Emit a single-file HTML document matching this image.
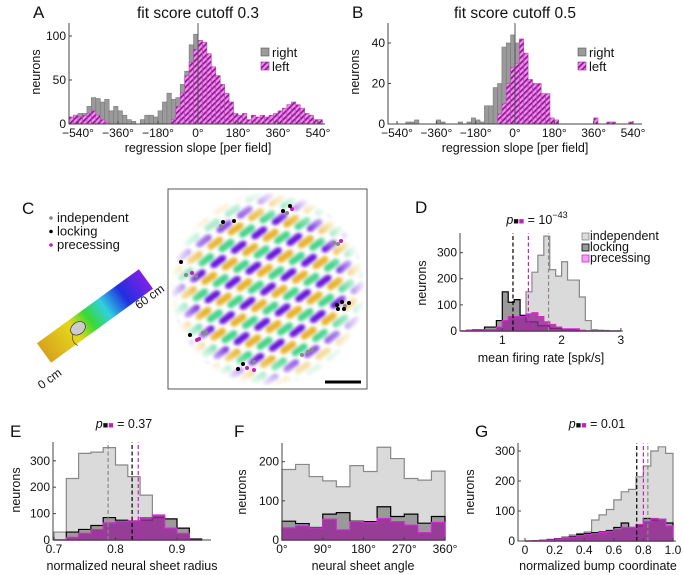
<!DOCTYPE html>
<html><head><meta charset="utf-8"><style>
html,body{margin:0;padding:0;background:#fff}
svg{display:block;font-family:"Liberation Sans",Arial,sans-serif}
</style></head><body>
<svg id="fig" width="683" height="575" viewBox="0 0 683 575" xmlns="http://www.w3.org/2000/svg">
<defs>
<pattern id="hatch" patternUnits="userSpaceOnUse" width="4" height="4" patternTransform="rotate(45)">
<rect width="4" height="4" fill="#ef8cef"/><rect width="1.7" height="4" fill="#8a1a8a"/>
</pattern>
<linearGradient id="cbar" x1="0" x2="1" y1="0" y2="0">
<stop offset="0" stop-color="#d9a21e"/><stop offset="0.3" stop-color="#e4d81a"/><stop offset="0.45" stop-color="#38d838"/>
<stop offset="0.6" stop-color="#30d0e0"/><stop offset="0.78" stop-color="#2030e0"/><stop offset="1" stop-color="#8020e8"/>
</linearGradient>
<radialGradient id="fade"><stop offset="0.7" stop-color="#fff"/><stop offset="1" stop-color="#000"/></radialGradient>
<mask id="diskmask"><circle cx="268" cy="289" r="98" fill="url(#fade)"/></mask>
<filter id="blur"><feGaussianBlur stdDeviation="1.5"/></filter>
</defs>
<g id="root"></g>
</svg>
<script>
// ---------- Data ----------
const A_binStart = -580, A_binWidth = 20;
const A_right = [5,10,12,12,20,30,29,25,28,15, 20,15,10,5,3,0,5,10,10,8, 15,25,35,28,30,45,60,90,102, 95,80,50,30,15,8,3,0,0, 0,0,0,0,0,0,0,0,0, 0,0,0,0,0,0,0,0,0,0];
const A_left  = [8,10,8,10,12,15,10,5,2,0, 0,0,0,0,0,0,0,0,0,0, 0,0,0,5,20,35,55,70,85, 95,93,80,65,55,45,35,25,12, 10,12,5,10,8,10,8,10,12, 15,18,22,25,22,18,12,10,5,5];
const B_right = [0,0,0,0,1,1,2,0,0,0, 0,2,1,0,0,0,1,0,1,3, 2,1,9,9,18,20,38,40,44, 40,20,10,5,2,0,0,0,0, 0,0,0,0,0,0,0,0,0, 0,0,0,0,0,0,0,0,0,0];
const B_left  = [0,0,0,0,0,0,0,0,0,0, 0,0,0,0,0,0,0,0,0,0, 0,0,0,0,0,5,10,20,28, 30,42,35,22,20,20,15,15,3, 2,0,0,0,0,0,0,0,0, 3,0,0,1,1,0,0,0,1,0];
const slopeTicks = [-540,-360,-180,0,180,360,540];
const A_yTicks = [0,50,100];
const B_yTicks = [0,20,40];

const D_binStart = 0.3, D_binWidth = 0.1;
const D_indep = [0,0,0,0,2,5,10,22,25,50,55,150,225,290,363,235,210,265,195,195,130,40,5,3,2,0,0];
const D_lock  = [0,3,5,5,15,15,40,150,110,120,60,35,35,20,20,10,10,5,5,3,0,0,0,0,0,0,0];
const D_prec  = [0,3,5,5,5,5,15,40,55,55,55,65,70,55,35,25,15,8,8,8,3,0,0,0,0,0,0];
const D_medians = [1.18,1.44,1.78];
const D_xTicks = [1,2,3], D_yTicks = [0,100,200,300];

const E_binStart = 0.70, E_binWidth = 0.02;
const E_indep = [30,233,328,333,350,284,240,170,88,78,44,5];
const E_lock  = [0,30,40,55,85,75,72,75,85,80,45,3];
const E_prec  = [0,10,25,40,65,70,72,85,95,45,25,0];
const E_medians = [0.788,0.827,0.837];
const E_xTicks = [0.7,0.8,0.9], E_yTicks = [0,100,200,300];

const F_binStart = 0, F_binWidth = 30;
const F_indep = [180,193,162,151,136,190,175,237,208,157,153,176];
const F_lock  = [48,42,32,66,70,48,47,85,60,66,43,60];
const F_prec  = [31,36,31,53,26,47,44,55,47,38,19,45];
const F_xTicks = [0,90,180,270,360], F_yTicks = [0,100,200];

const G_binStart = 0, G_binWidth = 0.05;
const G_indep = [0,1,3,5,8,14,20,25,30,70,87,105,137,164,172,214,250,300,314,292];
const G_lock  = [0,1,2,5,8,10,15,22,25,28,30,35,45,60,45,50,75,70,72,60];
const G_prec  = [0,1,2,4,7,10,13,18,22,25,28,32,38,45,45,55,65,75,72,50];
const G_medians = [0.755,0.80,0.83];
const G_xTicks = [0,0.2,0.4,0.6,0.8,1.0], G_yTicks = [0,100,200,300];

// ---------- helpers ----------
const NS = "http://www.w3.org/2000/svg";
const root = document.getElementById('root');
function mk(tag, attrs, parent) {
  const e = document.createElementNS(NS, tag);
  for (const k in attrs) e.setAttribute(k, attrs[k]);
  (parent || root).appendChild(e);
  return e;
}
function txt(x, y, s, size, anchor, parent, extra) {
  const t = mk('text', Object.assign({x:x, y:y, 'font-size':size, 'text-anchor':anchor||'middle', fill:'#111'}, extra||{}), parent);
  t.textContent = s;
  return t;
}
function lin(d0, d1, r0, r1) { return v => r0 + (v - d0) * (r1 - r0) / (d1 - d0); }

function axes(g, x0, x1, yTop, yBase) {
  const ax = mk('path', {d:`M${x0},${yTop} L${x0},${yBase} L${x1},${yBase}`, fill:'none', stroke:'#444', 'stroke-width':1}, g);
  
  
}
function yTicksDraw(g, ticks, y, x0, fmt) {
  ticks.forEach(v => {
    mk('line', {x1:x0, x2:x0+3, y1:y(v), y2:y(v), stroke:'#444'}, g);
    const t = txt(x0-3, y(v)+4, fmt ? fmt(v) : String(v), 12, 'end', g);
    
    
  });
}
function xTicksDraw(g, ticks, x, yb, fmt) {
  ticks.forEach(v => {
    mk('line', {x1:x(v), x2:x(v), y1:yb, y2:yb-3, stroke:'#444'}, g);
    const t = txt(x(v), yb+13, fmt ? fmt(v) : String(v), 12, 'middle', g);
    
    
  });
}
function stepPath(start, w, vals, x, y) {
  let d = `M${x(start)},${y(0)}`;
  vals.forEach((v, i) => { d += ` L${x(start+i*w)},${y(v)} L${x(start+(i+1)*w)},${y(v)}`; });
  d += ` L${x(start+vals.length*w)},${y(0)} Z`;
  return d;
}
function yLabel(g, x, y, s) {
  const t = txt(x, y, s, 12.5, 'middle', g, {transform:`rotate(-90 ${x} ${y})`});
  
  
}
function xLabel(g, x, y, s) {
  const t = txt(x, y, s, 12.5, 'middle', g);
  
  
}
function panelLetter(x, y, s) {
  const t = txt(x, y, s, 17, 'start');
  
  
}
function pText(g, x, y, val, sup) {
  const t = mk('text', {x:x, y:y, 'font-size':12.5, 'text-anchor':'middle', fill:'#111'}, g);
  
  
  const a = mk('tspan', {'font-style':'italic'}, t); a.textContent = 'p';
  const b = mk('tspan', {fill:'#111', 'font-size':9}, t); b.textContent = '■';
  const c = mk('tspan', {fill:'#c020c0', 'font-size':9}, t); c.textContent = '■';
  const d = mk('tspan', {}, t); d.textContent = ' = ' + val;
  if (sup) { const e = mk('tspan', {'font-size':9, dy:-6}, t); e.textContent = sup; }
}

// ---------- Panels A & B ----------
function slopePanel(name, x0, x1, zeroX, scale, yBase, yScale, yTop, right, left, yTicks, title, legendX) {
  const g = mk('g', {});
  
  
  const x = d => zeroX + d * scale;
  const y = v => yBase - v * yScale;
  right.forEach((v, i) => {
    if (v <= 0) return;
    const r = mk('rect', {x:x(A_binStart+i*A_binWidth), y:y(v), width:A_binWidth*scale, height:v*yScale, fill:'#9a9a9a', stroke:'#7a7a7a', 'stroke-width':0.6}, g);
    
    
  });
  left.forEach((v, i) => {
    if (v <= 0) return;
    const r = mk('rect', {x:x(A_binStart+i*A_binWidth), y:y(v), width:A_binWidth*scale, height:v*yScale, fill:'url(#hatch)', stroke:'#c040c0', 'stroke-width':0.6}, g);
    
    
  });
  mk('line', {x1:x(0), x2:x(0), y1:yTop, y2:yBase, stroke:'#555', 'stroke-width':1}, g);
  axes(g, x0, x1, yTop, yBase);
  yTicksDraw(g, yTicks, y, x0);
  xTicksDraw(g, slopeTicks, x, yBase, v => (v < 0 ? '\u2212' + (-v) : v) + '°');
  xLabel(g, x(0), yBase + 28, 'regression slope [per field]');
  yLabel(g, x0 - 29, 72, 'neurons');
  const tt = txt(x(0), 18, title, 15.5, 'middle', g);
  
  
  const l1 = mk('rect', {x:legendX, y:48, width:8, height:8, fill:'#9a9a9a', stroke:'#555', 'stroke-width':0.6}, g);
  
  
  const t1 = txt(legendX+11, 57, 'right', 13, 'start', g);
  
  
  const l2 = mk('rect', {x:legendX, y:62, width:8, height:8, fill:'url(#hatch)', stroke:'#a020a0', 'stroke-width':0.6}, g);
  
  
  const t2 = txt(legendX+11, 71, 'left', 13, 'start', g);
  
  
}
slopePanel('a', 69, 325, 198, 0.2222, 124, 0.88, 23, A_right, A_left, A_yTicks, 'fit score cutoff 0.3', 261);
slopePanel('b', 388, 642, 515, 0.2185, 124, 2.025, 23, B_right, B_left, B_yTicks, 'fit score cutoff 0.5', 578);
panelLetter(33, 18, 'A');
panelLetter(352, 18, 'B');

// ---------- Panel C ----------
panelLetter(22, 214, 'C');
(function(){
  const g = mk('g', {});
  
  
  const lg = [['independent','#888'],['locking','#000'],['precessing','#c020c0']];
  lg.forEach((e, i) => {
    mk('circle', {cx:51, cy:218+i*13.5, r:1.8, fill:e[1]}, g);
    const t = txt(57, 222+i*13.5, e[0], 13, 'start', g);
    
    
  });
  const cb = mk('g', {transform:'translate(44,353) rotate(-36)'}, g);
  
  
  mk('rect', {x:0, y:-12, width:126, height:24, fill:'url(#cbar)'}, cb);
  mk('ellipse', {cx:42, cy:0, rx:8, ry:6, fill:'#ccc', stroke:'#333', 'stroke-width':0.7}, cb);
  mk('path', {d:'M34,2 Q28,8 32,14', fill:'none', stroke:'#333', 'stroke-width':0.6}, cb);
  const t0 = txt(52, 382, '0 cm', 12, 'middle', g, {transform:'rotate(-36 52 382)'});
  
  
  const t60 = txt(152, 300, '60 cm', 12, 'middle', g, {transform:'rotate(-36 152 300)'});
  
  

  const box = mk('rect', {x:168, y:189, width:199, height:200, fill:'#fff', stroke:'#555', 'stroke-width':1}, g);
  
  
  const disk = mk('g', {mask:'url(#diskmask)'}, g);
  
  
  const inner = mk('g', {filter:'url(#blur)'}, disk);
  const cols = ['#6a14dc','#e8b42a','#44d48a','#9a60e8'];
  const ang = -35 * Math.PI / 180;
  const ax = [Math.cos(ang), Math.sin(ang)], bx = [-Math.sin(ang), Math.cos(ang)];
  for (let i = -12; i <= 12; i++) {
    const ci = ((i % 3) + 3) % 3;
    for (let j = -6; j <= 6; j++) {
      const u = j * 25 + ci * 8, w = i * 8.5;
      const cx = 268 + ax[0]*u + bx[0]*w, cy = 289 + ax[1]*u + bx[1]*w;
      mk('rect', {x:cx-9, y:cy-3.5, width:18, height:7, rx:3.5, fill:cols[ci], transform:`rotate(-35 ${cx} ${cy})`}, inner);
    }
  }
  const dots = [[283,211,'#000'],[287,213,'#888'],[292,209,'#c020c0'],[290,206,'#000'],[223,222,'#000'],[234,221,'#000'],[221,226,'#888'],
    [181,262,'#000'],[186,275,'#888'],[192,273,'#c020c0'],[196,276,'#888'],[334,243,'#888'],[341,241,'#c020c0'],[338,244,'#888'],
    [337,305,'#000'],[342,302,'#000'],[345,306,'#888'],[349,303,'#000'],[344,309,'#000'],[338,309,'#000'],
    [190,335,'#000'],[197,340,'#c020c0'],[203,333,'#888'],[206,332,'#888'],[199,339,'#c020c0'],
    [238,369,'#000'],[243,364,'#000'],[247,368,'#c020c0'],[254,362,'#888'],[254,370,'#c020c0'],[302,355,'#888'],[308,352,'#888'],[312,350,'#888']];
  dots.forEach(d => mk('circle', {cx:d[0], cy:d[1], r:2, fill:d[2]}, g));
  const sb = mk('rect', {x:325, y:380.5, width:36, height:3, fill:'#000'}, g);
  
  
})();

// ---------- distribution panels ----------
const C_INDEP = {fill:'#dadada', stroke:'#888'};
const C_LOCK  = {fill:'#9a9a9a', stroke:'#000'};
const C_PREC  = {fill:'rgba(150,40,150,0.82)', stroke:'#d528d5'};
function distPanel(name, start, w, series, x, y) {
  const g = mk('g', {});
  
  
  const p1 = mk('path', {d:stepPath(start, w, series[0], x, y), fill:C_INDEP.fill, stroke:C_INDEP.stroke, 'stroke-width':1.2}, g);
  
  
  const p2 = mk('path', {d:stepPath(start, w, series[1], x, y), fill:C_LOCK.fill, stroke:C_LOCK.stroke, 'stroke-width':1.2}, g);
  
  
  const p3 = mk('path', {d:stepPath(start, w, series[2], x, y), fill:C_PREC.fill, stroke:C_PREC.stroke, 'stroke-width':1.2}, g);
  
  
  return g;
}
function medianLines(g, meds, colors, x, yb, yt) {
  meds.forEach((m, i) => {
    const l = mk('line', {x1:x(m), x2:x(m), y1:yb, y2:yt, stroke:colors[i], 'stroke-width':1.2, 'stroke-dasharray':'4,2.5'}, g);
    
    
  });
}

// D
panelLetter(415, 213, 'D');
(function(){
  const x = lin(0, 1, 443, 502.3), y = v => 331 - v * 0.2613;
  const g = distPanel('d', D_binStart, D_binWidth, [D_indep, D_lock, D_prec], x, y);
  medianLines(g, D_medians, ['#000','#c020c0','#888'], x, y(0), 233);
  axes(g, 460, 623, 233, 331);
  yTicksDraw(g, D_yTicks, y, 460);
  xTicksDraw(g, D_xTicks, x, 331);
  xLabel(g, 541, 362, 'mean firing rate [spk/s]');
  yLabel(g, 426, 283, 'neurons');
  pText(g, 537, 224, '10', '\u221243');
  const lg = [['independent', C_INDEP], ['locking', C_LOCK], ['precessing', {fill:'#f0a0f0', stroke:'#d528d5'}]];
  lg.forEach((e, i) => {
    mk('rect', {x:582, y:233+i*11, width:7, height:7, fill:e[1].fill, stroke:e[1].stroke, 'stroke-width':0.8}, g);
    const t = txt(590, 240+i*11, e[0], 12.5, 'start', g);
    
    
  });
})();

// E
panelLetter(10, 437, 'E');
(function(){
  const x = v => 54 + (v - 0.7) * 615, y = v => 540 - v * 0.264;
  const g = distPanel('e', E_binStart, E_binWidth, [E_indep, E_lock, E_prec], x, y);
  medianLines(g, E_medians, ['#888','#000','#c020c0'], x, y(0), 442);
  axes(g, 53, 211, 442, 540);
  yTicksDraw(g, E_yTicks, y, 53);
  xTicksDraw(g, E_xTicks, x, 540, v => v.toFixed(1));
  xLabel(g, 132, 570, 'normalized neural sheet radius');
  yLabel(g, 20, 490, 'neurons');
  pText(g, 124, 428, '0.37');
})();

// F
panelLetter(234, 437, 'F');
(function(){
  const x = d => 282 + d * 0.4528, y = v => 540 - v * 0.3915;
  const g = distPanel('f', F_binStart, F_binWidth, [F_indep, F_lock, F_prec], x, y);
  axes(g, 282, 445, 443, 540);
  yTicksDraw(g, F_yTicks, y, 282);
  xTicksDraw(g, F_xTicks, x, 540, v => v + '°');
  xLabel(g, 363, 570, 'neural sheet angle');
  yLabel(g, 246, 492, 'neurons');
})();

// G
panelLetter(475, 437, 'G');
(function(){
  const x = v => 525 + v * 148, y = v => 541 - v * 0.3;
  const g = distPanel('g', G_binStart, G_binWidth, [G_indep, G_lock, G_prec], x, y);
  medianLines(g, G_medians, ['#000','#c020c0','#888'], x, y(0), 443);
  axes(g, 518, 676, 443, 541);
  yTicksDraw(g, G_yTicks, y, 518);
  xTicksDraw(g, G_xTicks, x, 541, v => v.toFixed(1).replace(/^0\.0$/, '0'));
  xLabel(g, 598, 570, 'normalized bump coordinate');
  yLabel(g, 474, 492, 'neurons');
  pText(g, 597, 428, '0.01');
})();
</script>
</body></html>
